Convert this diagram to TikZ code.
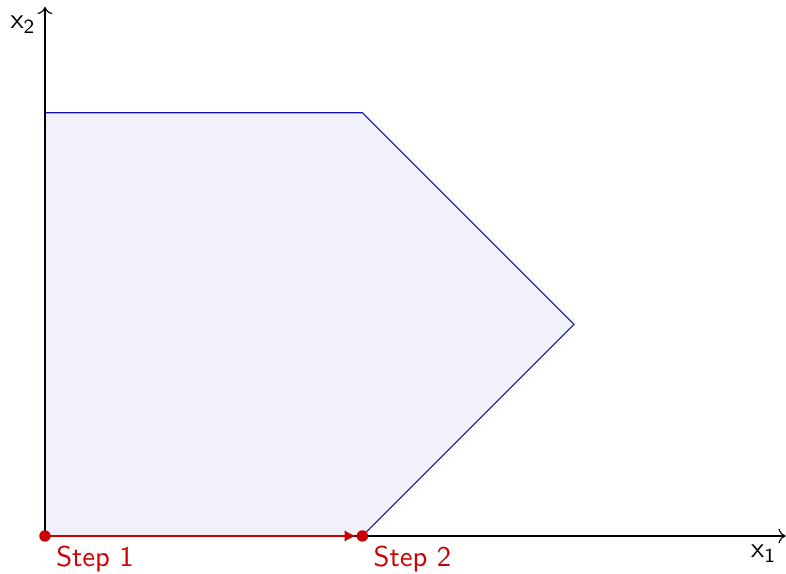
\documentclass[tikz,border=0pt]{standalone}
\usepackage{tikz}
\usepackage{xcolor}
\usetikzlibrary{arrows.meta, positioning, calc}
\definecolor{regionblue}{RGB}{20, 20, 170}
\definecolor{regionfill}{RGB}{240, 241, 251}
\definecolor{stepred}{RGB}{204, 0, 0}
\tikzset{
    % Coordinate axes
    axisline/.style={
        ->,
        black,
    },
    % Feasible region
    region/.style={
        draw=regionblue,
        fill=regionfill,
    },
    % Step marker (dot)
    stepdot/.style={
        circle,
        fill=stepred,
        inner sep=0pt,
        minimum size=4pt,
    },
    % Step arrow
    steparrow/.style={
        -{Latex[length=4pt, width=4pt]},
        semithick,
        stepred,
    },
    % Step label
    steplabel/.style={
        font=\sffamily,
        text=stepred,
    },
    % Axis label
    axislabel/.style={
        font=\sffamily,
    },
}
\begin{document}
\begin{tikzpicture}[x=1.3cm, y=1.3cm]
\useasboundingbox (-0.425,-0.35) rectangle (7.004,5.066);

% --- Region ---
\draw[region] (0,0) -- (0,4) -- (3,4) -- (5,2) -- (3,0) -- cycle;

% --- Axes ---
\coordinate (O) at (0,0);
\coordinate (xend) at (7,0);
\coordinate (yend) at (0,5);
\draw[axisline] (O) -- (xend);
\draw[axisline] (O) -- (yend);
\node[axislabel, anchor=north east, inner sep=3pt] at (xend) (xlab) {$\mathsf{x}_{\mathsf{1}}$};
\node[axislabel, anchor=north east, inner sep=3pt] at (yend) (ylab) {$\mathsf{x}_{\mathsf{2}}$};

% --- Steps ---
\node[stepdot] (s1) at (0,0) {};
\node[stepdot] (s2) at (3,0) {};
\draw[steparrow] (s1) -- (s2);
\node[steplabel, below right=-0.06cm and -0.04cm of s1] (l1) {Step 1};
\node[steplabel, below right=-0.06cm and -0.04cm of s2] (l2) {Step 2};

\end{tikzpicture}
\end{document}
